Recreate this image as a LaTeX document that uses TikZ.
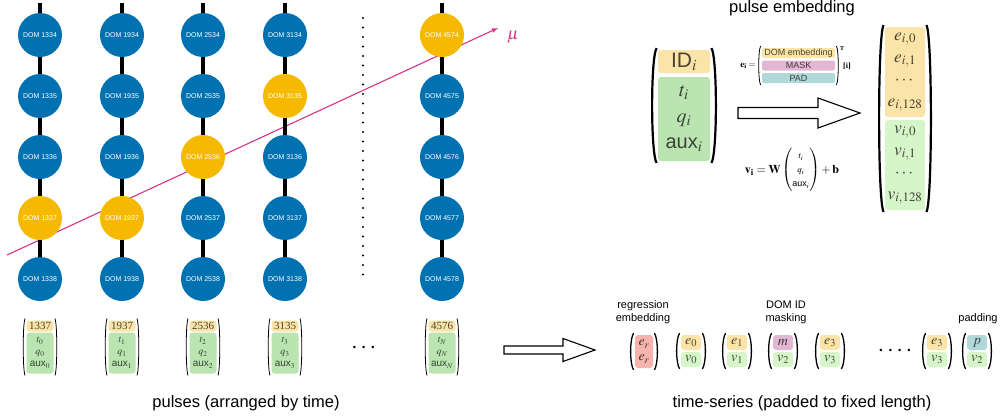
\documentclass[tikz,border=0pt]{standalone}
\usepackage{amsmath}
\usepackage{mathptmx}
\usepackage[no-math]{fontspec}
\setmainfont{Liberation Serif}
\setsansfont{Liberation Sans}
\usetikzlibrary{fit}

\definecolor{domBlue}{RGB}{0,114,178}
\definecolor{hitYellow}{RGB}{245,185,0}
\definecolor{muonPink}{RGB}{214,51,132}
\definecolor{idYellow}{RGB}{251,228,168}
\definecolor{featGreen}{RGB}{186,228,176}
\definecolor{embGreen}{RGB}{214,245,200}
\definecolor{maskPink}{RGB}{226,183,212}
\definecolor{padTeal}{RGB}{176,216,216}
\definecolor{regRed}{RGB}{245,180,172}

% haakjes om een vector (fit-knoop, lijndikte, bolling)
\newcommand{\vecParen}[3]{%
  \draw[line width=#2] (#1.north west) .. controls ([xshift=-#3,yshift=-1.5*#3]#1.north west) and ([xshift=-#3,yshift=1.5*#3]#1.south west) .. (#1.south west);
  \draw[line width=#2] (#1.north east) .. controls ([xshift=#3,yshift=-1.5*#3]#1.north east) and ([xshift=#3,yshift=1.5*#3]#1.south east) .. (#1.south east);
}

\begin{document}
\begin{tikzpicture}[x=1pt, y=-1pt, >=latex]

% --- Stijldefinities ---
\tikzset{
    domNode/.style={
        circle, minimum size=44pt, inner sep=0pt,
        fill=domBlue, text=white,
        font=\sffamily\fontsize{7}{8}\selectfont
    },
    stringLine/.style={
        draw=black, line width=3.2pt
    },
    muonTrack/.style={
        draw=muonPink, line width=1.1pt
    },
    entryBox/.style={
        fill=#1, text=#1!30!black,
        rounded corners=3pt, inner sep=0pt, align=center
    },
    tsBox/.style={
        minimum width=20pt, minimum height=15pt,
        font=\fontsize{14}{15}\selectfont
    },
    parenFit/.style={
        inner xsep=1pt, inner ysep=1.5pt
    },
    hollowArrow/.style={
        draw=black, fill=white, line width=1.1pt, line join=miter
    },
    dotsLabel/.style={
        font=\fontsize{24}{24}\selectfont, anchor=base, inner sep=0pt
    },
    captionLabel/.style={
        font=\sffamily\fontsize{16.5}{19}\selectfont, anchor=base
    },
    tagLabel/.style={
        font=\sffamily\fontsize{11}{13}\selectfont,
        align=center, anchor=south, inner sep=0pt
    }
}

\useasboundingbox (0,0) rectangle (1000,418);

% =========================================================
% Links: strings met DOMs en het muonspoor
% =========================================================

% muon (achter de DOMs)
\coordinate (muStart) at (7,255);
\coordinate (muEnd) at (498,28);
\draw[muonTrack, ->] (muStart) -- (muEnd);
\node[text=muonPink, font=\fontsize{17}{17}\selectfont] (muLabel) at (513,37) {$\mu$};

\foreach \x/\base/\hit in {40/1334/3, 122/1934/3, 203/2534/2, 285/3134/1, 442/4574/0} {
    \foreach \row in {0,...,4} {
        \pgfmathtruncatemacro{\dom}{\base+\row}
        \ifnum\row=\hit \def\domFill{hitYellow}\else\def\domFill{domBlue}\fi
        \node[domNode, fill=\domFill] (dom\dom) at (\x,35+61*\row) {DOM \dom};
    }
    % kabel tussen de DOMs
    \coordinate (top\base) at (\x,3);
    \draw[stringLine] (top\base) -- (dom\base);
    \foreach \row in {1,...,4} {
        \pgfmathtruncatemacro{\upper}{\base+\row-1}
        \pgfmathtruncatemacro{\lower}{\base+\row}
        \draw[stringLine] (dom\upper) -- (dom\lower);
    }
}

% weggelaten strings
\draw[line width=2.2pt, line cap=round, dash pattern=on 0pt off 9.5pt] (363,18) -- (363,275);

% pulsen onder de strings
\foreach \x/\id/\k in {40/1337/0, 122/1937/1, 203/2536/2, 285/3135/3, 442/4576/N} {
    \node[entryBox=idYellow, minimum width=27pt, minimum height=11pt,
          font=\fontsize{11}{12}\selectfont] (pid\id) at (\x,326) {\id};
    \node[entryBox=featGreen, minimum width=27pt, minimum height=41pt,
          font=\fontsize{10}{12}\selectfont] (pfeat\id) at (\x,353) {$t_\k$\\$q_\k$\\\textsf{aux}$_\k$};
    \node[parenFit, fit=(pid\id)(pfeat\id)] (pvec\id) {};
    \vecParen{pvec\id}{0.8pt}{2.5pt}
}
\node[dotsLabel] (pulseDots) at (365,353) {$\cdots$};

\node[captionLabel] (pulseCaption) at (246,407) {pulses (arranged by time)};

% =========================================================
% Rechtsboven: pulse embedding
% =========================================================

\node[captionLabel] (embCaption) at (792,12) {pulse embedding};

\node[entryBox=idYellow, minimum width=52pt, minimum height=23pt,
      font=\fontsize{21}{24}\selectfont] (pulseId) at (684,61.5) {\textsf{ID}$_i$};
\node[entryBox=featGreen, minimum width=52pt, minimum height=84pt,
      font=\fontsize{20}{26}\selectfont] (pulseFeat) at (684,119) {$t_i$\\$q_i$\\\textsf{aux}$_i$};
\node[parenFit, fit=(pulseId)(pulseFeat)] (pulseVec) {};
\vecParen{pulseVec}{2.2pt}{6pt}

\draw[hollowArrow] (738,107.5) -- (818,107.5) -- (818,98) -- (860,113)
    -- (818,128) -- (818,118.5) -- (738,118.5) -- cycle;

% e_i als opzoektabel
\node[font=\fontsize{9}{10}\selectfont] (eqE) at (748,66) {$\mathbf{e_i}=$};
\node[entryBox=idYellow, rounded corners=2pt, minimum width=73pt, minimum height=10pt,
      font=\sffamily\fontsize{9}{10}\selectfont] (tblDom) at (798.5,53) {DOM embedding};
\node[entryBox=maskPink, rounded corners=2pt, minimum width=73pt, minimum height=10pt,
      font=\sffamily\fontsize{9}{10}\selectfont] (tblMask) at (798.5,65.5) {MASK};
\node[entryBox=padTeal, rounded corners=2pt, minimum width=73pt, minimum height=10pt,
      font=\sffamily\fontsize{9}{10}\selectfont] (tblPad) at (798.5,78) {PAD};
\node[parenFit, fit=(tblDom)(tblPad)] (tblVec) {};
\vecParen{tblVec}{0.8pt}{2.5pt}
\node[font=\bfseries\fontsize{6}{6}\selectfont] (tblT) at (842,49) {T};
\node[font=\bfseries\fontsize{8}{8}\selectfont] (tblIdx) at (847,66) {[i]};

% v_i als lineaire laag
\node[font=\fontsize{12}{14}\selectfont] (eqV) at (792,170)
    {$\mathbf{v_i}=\mathbf{W}\begin{pmatrix}\scriptstyle t_i\\ \scriptstyle q_i\\ \scriptstyle\textsf{aux}_i\end{pmatrix}+\mathbf{b}$};

\node[entryBox=idYellow, minimum width=40pt, minimum height=90pt,
      font=\fontsize{17.5}{22}\selectfont] (embE) at (905,72) {$e_{i,0}$\\$e_{i,1}$\\$\cdots$\\$e_{i,128}$};
\node[entryBox=embGreen, minimum width=40pt, minimum height=90pt,
      font=\fontsize{17.5}{22}\selectfont] (embV) at (905,165) {$v_{i,0}$\\$v_{i,1}$\\$\cdots$\\$v_{i,128}$};
\node[parenFit, fit=(embE)(embV)] (embVec) {};
\vecParen{embVec}{2.2pt}{6pt}

% =========================================================
% Rechtsonder: tijdreeks
% =========================================================

\draw[hollowArrow] (504,346) -- (563,346) -- (563,338.5) -- (595,350)
    -- (563,361.5) -- (563,354) -- (504,354) -- cycle;

\node[entryBox=regRed, minimum width=18pt, minimum height=33pt,
      font=\fontsize{14}{15}\selectfont] (tsReg) at (644,351.5) {$e_r$\\$e_r$};
\node[parenFit, fit=(tsReg)] (tsRegVec) {};
\vecParen{tsRegVec}{1.3pt}{4pt}

\foreach \x/\topEntry/\topFill/\lowEntry [count=\n] in
    {691/e_0/idYellow/v_0, 737/e_1/idYellow/v_1, 783/m/maskPink/v_2,
     830/e_3/idYellow/v_3, 937/e_3/idYellow/v_3, 977/p/padTeal/v_2} {
    \node[entryBox=\topFill, tsBox] (tsUp\n) at (\x,342.5) {$\topEntry$};
    \node[entryBox=embGreen, tsBox] (tsLow\n) at (\x,359.5) {$\lowEntry$};
    \node[parenFit, fit=(tsUp\n)(tsLow\n)] (tsVec\n) {};
    \vecParen{tsVec\n}{1.3pt}{4pt}
}
\node[dotsLabel] (tsDots) at (895,356) {$\mathinner{\cdotp\cdotp\cdotp\cdotp}$};

\node[tagLabel] (tagReg) at (643,324) {regression\\embedding};
\node[tagLabel] (tagMask) at (786,324) {DOM ID\\masking};
\node[tagLabel] (tagPad) at (978,324) {padding};

\node[captionLabel] (tsCaption) at (802,407) {time-series (padded to fixed length)};

\end{tikzpicture}
\end{document}
